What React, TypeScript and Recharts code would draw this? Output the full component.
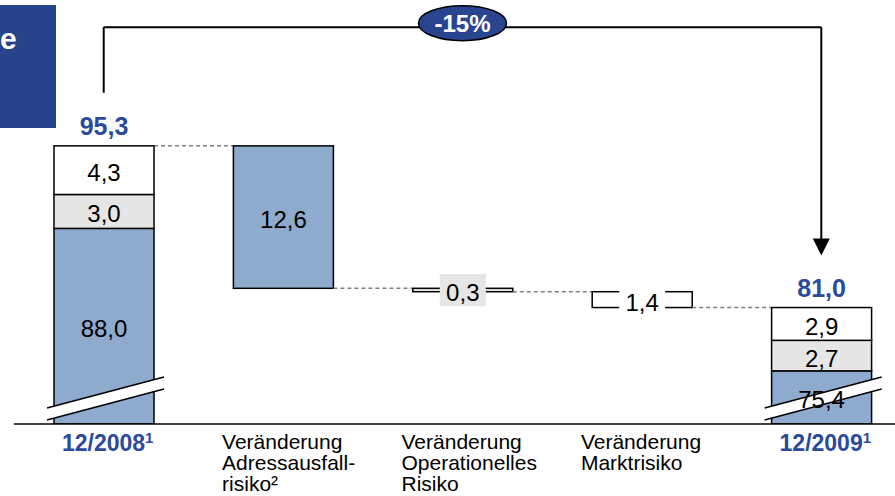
import { ComposedChart, Bar, XAxis, YAxis, LabelList, ReferenceLine, ReferenceDot } from 'recharts';

const categories = ['12/2008', 'Veränderung Adressausfallrisiko', 'Veränderung Operationelles Risiko', 'Veränderung Marktrisiko', '12/2009'];
const tickLines = [['12/2008'], ['Veränderung', 'Adressausfall-', 'risiko²'], ['Veränderung', 'Operationelles', 'Risiko'], ['Veränderung', 'Marktrisiko'], ['12/2009']];
const totalNote = '1';

// Adressausfallrisiko (blue), Operationelles Risiko (grey), Marktrisiko (white)
const adressausfall = [88.0, 12.6, 0, 0, 75.4];
const operationell = [3.0, 0, 0.3, 0, 2.7];
const markt = [4.3, 0, 0, 1.4, 2.9];
const totals: (number | null)[] = [95.3, null, null, null, 81.0];
const changeLabel = '-15%';

const AXIS_MIN = 70.7;
const AXIS_MAX = 108.2;
const BRACKET_Y = 105.8;
const LEFT_LEG_END = 100.0;
const ARROW_TIP = 85.6;

const CHART_W = 920;
const MARGIN_L = 14;
const MARGIN_R = 9;
const BAR_SIZE = 100;
const GAP = (CHART_W - MARGIN_L - MARGIN_R) / categories.length - BAR_SIZE;

const BLUE = '#8eaacd';
const GREY = '#e6e6e6';
const DARK_BLUE = '#2a4590';
const LABEL_BLUE = '#2b4a9b';
const FONT = '"Liberation Sans", Arial, sans-serif';

let level = totals[0] as number;
const rows = categories.map((name, i) => {
  const isTotal = totals[i] != null;
  if (isTotal) {
    return {
      name, isTotal, top: 'mk',
      base: AXIS_MIN,
      adr: adressausfall[i] - AXIS_MIN, op: operationell[i], mk: markt[i],
      adrLabel: adressausfall[i], opLabel: operationell[i], mkLabel: markt[i],
      totalLabel: totals[i],
    };
  }
  const delta = adressausfall[i] + operationell[i] + markt[i];
  level = level - delta;
  return {
    name, isTotal, top: adressausfall[i] ? 'adr' : operationell[i] ? 'op' : 'mk',
    base: level,
    adr: adressausfall[i], op: operationell[i], mk: markt[i],
    adrLabel: adressausfall[i] || null, opLabel: operationell[i] || null, mkLabel: markt[i] || null,
    totalLabel: null,
  };
});

const fmt = (v: number) => v.toFixed(1).replace('.', ',');

const makeShape = (key: string, fill: string) => (props: any) => {
  const { x, y, width, height, payload, index } = props;
  if (!height || height <= 0) return <g />;
  const b = y + height;
  return (
    <g>
      {payload.top === key && index > 0 && (
        <line x1={x - GAP} x2={x} y1={y} y2={y} stroke="#808080" strokeWidth={1.5} strokeDasharray="4 3" />
      )}
      <rect x={x} y={y} width={width} height={height} fill={fill} stroke="#000" strokeWidth={1.5} />
      {key === 'adr' && payload.isTotal && (
        <g>
          <polygon points={`${x - 7},${b - 16} ${x + width + 10},${b - 47} ${x + width + 10},${b - 35} ${x - 7},${b - 4}`} fill="#fff" />
          <line x1={x - 7} y1={b - 16} x2={x + width + 10} y2={b - 47} stroke="#000" strokeWidth={1.5} />
          <line x1={x - 7} y1={b - 4} x2={x + width + 10} y2={b - 35} stroke="#000" strokeWidth={1.5} />
        </g>
      )}
    </g>
  );
};

const makeLabel = (bg: string) => (props: any) => {
  const { x, y, width, height, value } = props;
  if (value == null || !value) return null;
  const cx = Number(x) + Number(width) / 2;
  const cy = Number(y) + Number(height) / 2;
  const small = Number(height) < 24;
  return (
    <g>
      {small && <rect x={cx - 23} y={cy - (bg === GREY ? 16 : 11)} width={46} height={bg === GREY ? 32 : 22} fill={bg} />}
      <text x={cx} y={cy + 11} textAnchor="middle" fontSize={24} fontFamily={FONT} fill="#000">{fmt(value)}</text>
    </g>
  );
};

const TotalLabel = (props: any) => {
  const { x, y, width, value } = props;
  if (value == null) return null;
  return (
    <text x={Number(x) + Number(width) / 2} y={Number(y) - 11} textAnchor="middle" fontSize={25} fontWeight="bold" fontFamily={FONT} fill={LABEL_BLUE}>
      {fmt(value)}
    </text>
  );
};

const CategoryTick = (props: any) => {
  const { x, y, index } = props;
  const lines = tickLines[index];
  if (totals[index] != null) {
    return (
      <text x={x + 4} y={y + 19} textAnchor="middle" fontSize={23} fontWeight="bold" fontFamily={FONT} fill={LABEL_BLUE}>
        {lines[0]}
        <tspan fontSize={15} dy={-8}>{totalNote}</tspan>
      </text>
    );
  }
  return (
    <text x={x - 61} y={y + 17} fontSize={21} fontFamily={FONT} fill="#000">
      {lines.map((l, i) => (
        <tspan key={i} x={x - 61} dy={i === 0 ? 0 : 21}>{l}</tspan>
      ))}
    </text>
  );
};

const ArrowHead = (props: any) => {
  const { cx, cy } = props;
  return <polygon points={`${cx - 8.5},${cy - 17} ${cx + 8.5},${cy - 17} ${cx},${cy}`} fill="#000" />;
};

const ChangeBadge = (props: any) => {
  const { cx, cy } = props;
  return (
    <g>
      <ellipse cx={cx} cy={cy - 4} rx={44} ry={17.5} fill={DARK_BLUE} stroke="#000" strokeWidth={1.5} />
      <text x={cx} y={cy + 5} textAnchor="middle" fontSize={24} fontWeight="bold" fontFamily={FONT} fill="#fff">{changeLabel}</text>
    </g>
  );
};

export default function App() {
  return (
    <div style={{ position: 'absolute', left: 0, top: 0, width: 895, height: 496, overflow: 'hidden', background: '#fff' }}>
      <ComposedChart width={CHART_W} height={496} data={rows} margin={{ top: 0, right: MARGIN_R, left: MARGIN_L, bottom: 0 }} barSize={BAR_SIZE}>
        <XAxis dataKey="name" height={72} interval={0} tickLine={false} axisLine={{ stroke: '#000', strokeWidth: 1.5 }} tick={<CategoryTick />} />
        <YAxis hide domain={[AXIS_MIN, AXIS_MAX]} allowDataOverflow />
        <Bar dataKey="base" stackId="s" fill="transparent" isAnimationActive={false} />
        <Bar dataKey="adr" stackId="s" shape={makeShape('adr', BLUE)} isAnimationActive={false}>
          <LabelList dataKey="adrLabel" content={makeLabel(BLUE)} />
        </Bar>
        <Bar dataKey="op" stackId="s" shape={makeShape('op', GREY)} isAnimationActive={false}>
          <LabelList dataKey="opLabel" content={makeLabel(GREY)} />
        </Bar>
        <Bar dataKey="mk" stackId="s" shape={makeShape('mk', '#fff')} isAnimationActive={false}>
          <LabelList dataKey="mkLabel" content={makeLabel('#fff')} />
          <LabelList dataKey="totalLabel" content={TotalLabel} />
        </Bar>
        <ReferenceLine segment={[{ x: categories[0], y: LEFT_LEG_END }, { x: categories[0], y: BRACKET_Y }]} stroke="#000" strokeWidth={2} />
        <ReferenceLine segment={[{ x: categories[0], y: BRACKET_Y }, { x: categories[4], y: BRACKET_Y }]} stroke="#000" strokeWidth={2} />
        <ReferenceLine segment={[{ x: categories[4], y: BRACKET_Y }, { x: categories[4], y: ARROW_TIP + 1.2 }]} stroke="#000" strokeWidth={2} />
        <ReferenceDot x={categories[4]} y={ARROW_TIP} r={1} shape={ArrowHead} />
        <ReferenceDot x={categories[2]} y={BRACKET_Y} r={1} shape={ChangeBadge} />
      </ComposedChart>
      <div style={{ position: 'absolute', left: 0, top: 5, width: 56, height: 123, background: '#27438c', overflow: 'hidden' }}>
        <span style={{ position: 'absolute', left: 0, top: 19, fontFamily: FONT, fontWeight: 'bold', fontSize: 30, lineHeight: '30px', color: '#fff' }}>e</span>
      </div>
    </div>
  );
}
